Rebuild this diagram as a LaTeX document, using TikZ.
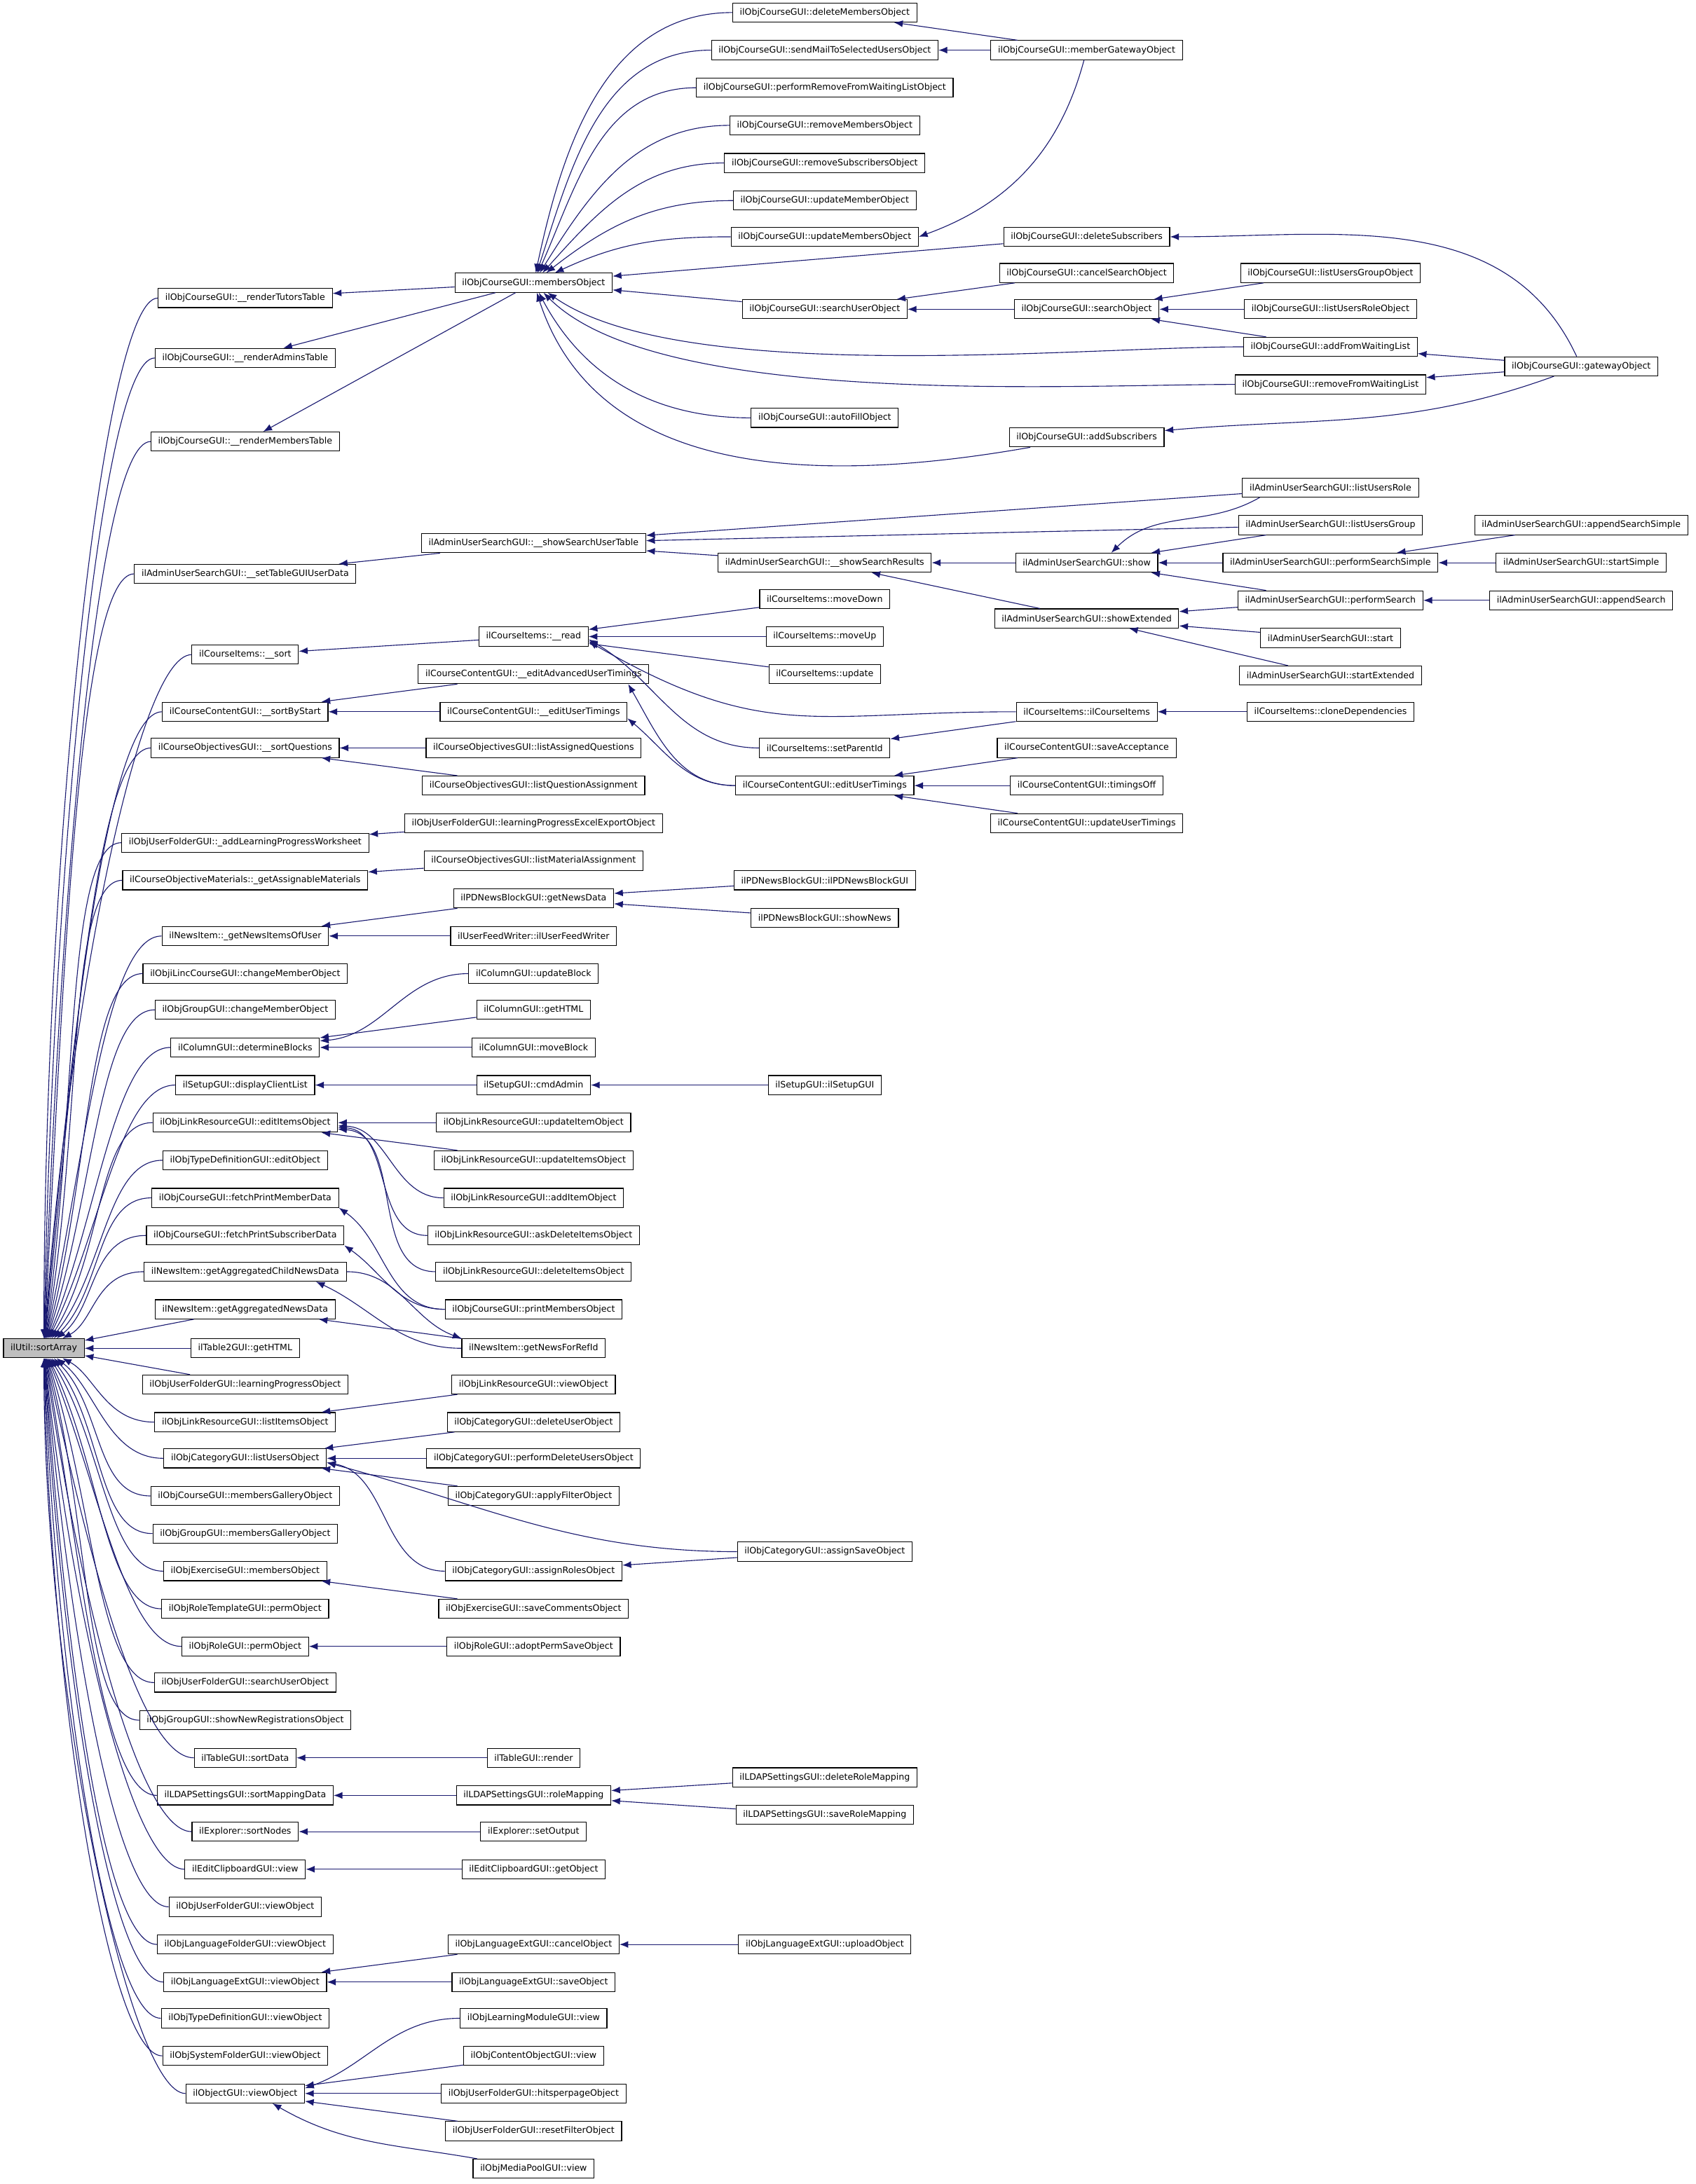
\documentclass[tikz,border=0pt]{standalone}
\usepackage{fontspec}
\setmainfont{DejaVu Sans}
\usetikzlibrary{arrows.meta}
\definecolor{edgeblue}{HTML}{191970}

\begin{document}
\begin{tikzpicture}[x=0.05cm, y=0.05cm]
    % Styles
    \tikzstyle{func} = [rectangle, draw=black, line width=0.8pt, fill=white, font=\fontsize{9}{10}\selectfont, inner xsep=7.3pt, inner ysep=0pt, minimum height=19.5pt]
    \tikzstyle{root} = [func, fill=black!25]
    \tikzstyle{arrow} = [line width=0.8pt, draw=edgeblue, -{Latex[length=9pt,width=7pt]}]

    \useasboundingbox (0,0) rectangle (1217,-1568);

    % Nodes
    \node (sa) [root] at (31.5,-968) {ilUtil::sortArray};

    % callers of sortArray
    \node (rtt) [func] at (176,-214) {ilObjCourseGUI::\_\_renderTutorsTable};
    \node (rat) [func] at (176,-257) {ilObjCourseGUI::\_\_renderAdminsTable};
    \node (rmt) [func] at (176,-317) {ilObjCourseGUI::\_\_renderMembersTable};
    \node (stg) [func] at (176,-412) {ilAdminUserSearchGUI::\_\_setTableGUIUserData};
    \node (cis) [func] at (176,-470) {ilCourseItems::\_\_sort};
    \node (sbs) [func] at (176,-511) {ilCourseContentGUI::\_\_sortByStart};
    \node (sq) [func] at (176,-537) {ilCourseObjectivesGUI::\_\_sortQuestions};
    \node (alp) [func] at (176,-605) {ilObjUserFolderGUI::\_addLearningProgressWorksheet};
    \node (gam) [func] at (176,-632) {ilCourseObjectiveMaterials::\_getAssignableMaterials};
    \node (gnu) [func] at (176,-672) {ilNewsItem::\_getNewsItemsOfUser};
    \node (lcm) [func] at (176,-699) {ilObjiLincCourseGUI::changeMemberObject};
    \node (gcm) [func] at (176,-725) {ilObjGroupGUI::changeMemberObject};
    \node (db) [func] at (176,-752) {ilColumnGUI::determineBlocks};
    \node (dcl) [func] at (176,-779) {ilSetupGUI::displayClientList};
    \node (eio) [func] at (176,-806) {ilObjLinkResourceGUI::editItemsObject};
    \node (tde) [func] at (176,-833) {ilObjTypeDefinitionGUI::editObject};
    \node (fpm) [func] at (176,-860) {ilObjCourseGUI::fetchPrintMemberData};
    \node (fps) [func] at (176,-887) {ilObjCourseGUI::fetchPrintSubscriberData};
    \node (gacn) [func] at (176,-913) {ilNewsItem::getAggregatedChildNewsData};
    \node (gan) [func] at (176,-940) {ilNewsItem::getAggregatedNewsData};
    \node (t2h) [func] at (176,-968) {ilTable2GUI::getHTML};
    \node (lpo) [func] at (176,-994) {ilObjUserFolderGUI::learningProgressObject};
    \node (lio) [func] at (176,-1021) {ilObjLinkResourceGUI::listItemsObject};
    \node (luo) [func] at (176,-1047) {ilObjCategoryGUI::listUsersObject};
    \node (cmg) [func] at (176,-1074) {ilObjCourseGUI::membersGalleryObject};
    \node (gmg) [func] at (176,-1101) {ilObjGroupGUI::membersGalleryObject};
    \node (emo) [func] at (176,-1128) {ilObjExerciseGUI::membersObject};
    \node (rtp) [func] at (176,-1155) {ilObjRoleTemplateGUI::permObject};
    \node (rp) [func] at (176,-1182) {ilObjRoleGUI::permObject};
    \node (usu) [func] at (176,-1208) {ilObjUserFolderGUI::searchUserObject};
    \node (gnr) [func] at (176,-1235) {ilObjGroupGUI::showNewRegistrationsObject};
    \node (tsd) [func] at (176,-1262) {ilTableGUI::sortData};
    \node (smd) [func] at (176,-1289) {ilLDAPSettingsGUI::sortMappingData};
    \node (esn) [func] at (176,-1315) {ilExplorer::sortNodes};
    \node (ecv) [func] at (176,-1342) {ilEditClipboardGUI::view};
    \node (ufv) [func] at (176,-1369) {ilObjUserFolderGUI::viewObject};
    \node (lfv) [func] at (176,-1396) {ilObjLanguageFolderGUI::viewObject};
    \node (lev) [func] at (176,-1423) {ilObjLanguageExtGUI::viewObject};
    \node (tdv) [func] at (176,-1449) {ilObjTypeDefinitionGUI::viewObject};
    \node (sfv) [func] at (176,-1476) {ilObjSystemFolderGUI::viewObject};
    \node (ogv) [func] at (176,-1503) {ilObjectGUI::viewObject};

    % second level
    \node (mo) [func] at (383,-203) {ilObjCourseGUI::membersObject};
    \node (ssut) [func] at (383,-390) {ilAdminUserSearchGUI::\_\_showSearchUserTable};
    \node (cir) [func] at (383,-457) {ilCourseItems::\_\_read};
    \node (eaut) [func] at (383,-484) {ilCourseContentGUI::\_\_editAdvancedUserTimings};
    \node (eut) [func] at (383,-511) {ilCourseContentGUI::\_\_editUserTimings};
    \node (laq) [func] at (383,-537) {ilCourseObjectivesGUI::listAssignedQuestions};
    \node (lqa) [func] at (383,-564) {ilCourseObjectivesGUI::listQuestionAssignment};
    \node (lpe) [func] at (383,-591) {ilObjUserFolderGUI::learningProgressExcelExportObject};
    \node (lma) [func] at (383,-618) {ilCourseObjectivesGUI::listMaterialAssignment};
    \node (gnd) [func] at (383,-645) {ilPDNewsBlockGUI::getNewsData};
    \node (ufw) [func] at (383,-672) {ilUserFeedWriter::ilUserFeedWriter};
    \node (cub) [func] at (383,-699) {ilColumnGUI::updateBlock};
    \node (cgh) [func] at (383,-725) {ilColumnGUI::getHTML};
    \node (cmb) [func] at (383,-752) {ilColumnGUI::moveBlock};
    \node (sca) [func] at (383,-779) {ilSetupGUI::cmdAdmin};
    \node (uio) [func] at (383,-806) {ilObjLinkResourceGUI::updateItemObject};
    \node (uiso) [func] at (383,-833) {ilObjLinkResourceGUI::updateItemsObject};
    \node (aio) [func] at (383,-860) {ilObjLinkResourceGUI::addItemObject};
    \node (adi) [func] at (383,-887) {ilObjLinkResourceGUI::askDeleteItemsObject};
    \node (dio) [func] at (383,-913) {ilObjLinkResourceGUI::deleteItemsObject};
    \node (pmo) [func] at (383,-940) {ilObjCourseGUI::printMembersObject};
    \node (gnfr) [func] at (383,-968) {ilNewsItem::getNewsForRefId};
    \node (lrv) [func] at (383,-994) {ilObjLinkResourceGUI::viewObject};
    \node (duo) [func] at (383,-1021) {ilObjCategoryGUI::deleteUserObject};
    \node (pdu) [func] at (383,-1047) {ilObjCategoryGUI::performDeleteUsersObject};
    \node (afo) [func] at (383,-1074) {ilObjCategoryGUI::applyFilterObject};
    \node (aro) [func] at (383,-1128) {ilObjCategoryGUI::assignRolesObject};
    \node (sco) [func] at (383,-1155) {ilObjExerciseGUI::saveCommentsObject};
    \node (aps) [func] at (383,-1182) {ilObjRoleGUI::adoptPermSaveObject};
    \node (tr) [func] at (383,-1262) {ilTableGUI::render};
    \node (lrm) [func] at (383,-1289) {ilLDAPSettingsGUI::roleMapping};
    \node (eso) [func] at (383,-1315) {ilExplorer::setOutput};
    \node (ego) [func] at (383,-1342) {ilEditClipboardGUI::getObject};
    \node (lco) [func] at (383,-1396) {ilObjLanguageExtGUI::cancelObject};
    \node (lso) [func] at (383,-1423) {ilObjLanguageExtGUI::saveObject};
    \node (lmv) [func] at (383,-1449) {ilObjLearningModuleGUI::view};
    \node (cov) [func] at (383,-1476) {ilObjContentObjectGUI::view};
    \node (hpp) [func] at (383,-1503) {ilObjUserFolderGUI::hitsperpageObject};
    \node (rfo) [func] at (383,-1530) {ilObjUserFolderGUI::resetFilterObject};
    \node (mpv) [func] at (383,-1557) {ilObjMediaPoolGUI::view};

    % third level
    \node (dmo) [func] at (592,-9) {ilObjCourseGUI::deleteMembersObject};
    \node (smo) [func] at (592,-36) {ilObjCourseGUI::sendMailToSelectedUsersObject};
    \node (prw) [func] at (592,-63) {ilObjCourseGUI::performRemoveFromWaitingListObject};
    \node (rmo) [func] at (592,-90) {ilObjCourseGUI::removeMembersObject};
    \node (rso) [func] at (592,-117) {ilObjCourseGUI::removeSubscribersObject};
    \node (umo) [func] at (592,-144) {ilObjCourseGUI::updateMemberObject};
    \node (umso) [func] at (592,-170) {ilObjCourseGUI::updateMembersObject};
    \node (suo) [func] at (592,-222) {ilObjCourseGUI::searchUserObject};
    \node (afl) [func] at (592,-300) {ilObjCourseGUI::autoFillObject};
    \node (ssr) [func] at (592,-404) {ilAdminUserSearchGUI::\_\_showSearchResults};
    \node (cmd) [func] at (592,-430) {ilCourseItems::moveDown};
    \node (cmu) [func] at (592,-457) {ilCourseItems::moveUp};
    \node (ciu) [func] at (592,-484) {ilCourseItems::update};
    \node (csp) [func] at (592,-537) {ilCourseItems::setParentId};
    \node (ceut) [func] at (592,-564) {ilCourseContentGUI::editUserTimings};
    \node (pdb) [func] at (592,-632) {ilPDNewsBlockGUI::ilPDNewsBlockGUI};
    \node (psn) [func] at (592,-659) {ilPDNewsBlockGUI::showNews};
    \node (sgu) [func] at (592,-779) {ilSetupGUI::ilSetupGUI};
    \node (aso) [func] at (592,-1114) {ilObjCategoryGUI::assignSaveObject};
    \node (drm) [func] at (592,-1276) {ilLDAPSettingsGUI::deleteRoleMapping};
    \node (srm) [func] at (592,-1303) {ilLDAPSettingsGUI::saveRoleMapping};
    \node (upl) [func] at (592,-1396) {ilObjLanguageExtGUI::uploadObject};

    % fourth level
    \node (mgo) [func] at (780,-36) {ilObjCourseGUI::memberGatewayObject};
    \node (dsu) [func] at (780,-170) {ilObjCourseGUI::deleteSubscribers};
    \node (cso) [func] at (780,-196) {ilObjCourseGUI::cancelSearchObject};
    \node (so) [func] at (780,-222) {ilObjCourseGUI::searchObject};
    \node (asu) [func] at (780,-314) {ilObjCourseGUI::addSubscribers};
    \node (aus) [func] at (780,-404) {ilAdminUserSearchGUI::show};
    \node (ase) [func] at (780,-444) {ilAdminUserSearchGUI::showExtended};
    \node (cic) [func] at (780,-511) {ilCourseItems::ilCourseItems};
    \node (csa) [func] at (780,-537) {ilCourseContentGUI::saveAcceptance};
    \node (cto) [func] at (780,-564) {ilCourseContentGUI::timingsOff};
    \node (cuut) [func] at (780,-591) {ilCourseContentGUI::updateUserTimings};

    % fifth level
    \node (lugo) [func] at (955,-196) {ilObjCourseGUI::listUsersGroupObject};
    \node (luro) [func] at (955,-222) {ilObjCourseGUI::listUsersRoleObject};
    \node (afw) [func] at (955,-249) {ilObjCourseGUI::addFromWaitingList};
    \node (rfw) [func] at (955,-276) {ilObjCourseGUI::removeFromWaitingList};
    \node (alr) [func] at (955,-350) {ilAdminUserSearchGUI::listUsersRole};
    \node (alg) [func] at (955,-377) {ilAdminUserSearchGUI::listUsersGroup};
    \node (pss) [func] at (955,-404) {ilAdminUserSearchGUI::performSearchSimple};
    \node (ps) [func] at (955,-431) {ilAdminUserSearchGUI::performSearch};
    \node (ast) [func] at (955,-458) {ilAdminUserSearchGUI::start};
    \node (astx) [func] at (955,-485) {ilAdminUserSearchGUI::startExtended};
    \node (ccd) [func] at (955,-511) {ilCourseItems::cloneDependencies};

    % sixth level
    \node (gwo) [func] at (1135,-263) {ilObjCourseGUI::gatewayObject};
    \node (ass) [func] at (1135,-377) {ilAdminUserSearchGUI::appendSearchSimple};
    \node (asi) [func] at (1135,-404) {ilAdminUserSearchGUI::startSimple};
    \node (asr) [func] at (1135,-431) {ilAdminUserSearchGUI::appendSearch};

    % Arrows into sortArray
    \draw [arrow] (rtt.west) .. controls +(-40,0) and +(90:340) .. (sa.90);
    \draw [arrow] (rat.west) .. controls +(-40,0) and +(89:320) .. (sa.89);
    \draw [arrow] (rmt.west) .. controls +(-40,0) and +(88:292) .. (sa.88);
    \draw [arrow] (stg.west) .. controls +(-40,0) and +(87:250) .. (sa.87);
    \draw [arrow] (cis.west) .. controls +(-40,0) and +(86:224) .. (sa.86);
    \draw [arrow] (sbs.west) .. controls +(-40,0) and +(85:206) .. (sa.85);
    \draw [arrow] (sq.west) .. controls +(-40,0) and +(84:194) .. (sa.84);
    \draw [arrow] (alp.west) .. controls +(-40,0) and +(82:164) .. (sa.82);
    \draw [arrow] (gam.west) .. controls +(-40,0) and +(80:152) .. (sa.80);
    \draw [arrow] (gnu.west) .. controls +(-40,0) and +(78:134) .. (sa.78);
    \draw [arrow] (lcm.west) .. controls +(-40,0) and +(75:120) .. (sa.75);
    \draw [arrow] (gcm.west) .. controls +(-40,0) and +(72:110) .. (sa.72);
    \draw [arrow] (db.west) .. controls +(-40,0) and +(68:98) .. (sa.68);
    \draw [arrow] (dcl.west) .. controls +(-40,0) and +(64:86) .. (sa.64);
    \draw [arrow] (eio.west) .. controls +(-40,0) and +(58:74) .. (sa.58);
    \draw [arrow] (tde.west) .. controls +(-40,0) and +(52:62) .. (sa.52);
    \draw [arrow] (fpm.west) .. controls +(-40,0) and +(45:50) .. (sa.45);
    \draw [arrow] (fps.west) .. controls +(-40,0) and +(38:36) .. (sa.38);
    \draw [arrow] (gacn.west) .. controls +(-35,0) and +(28:26) .. (sa.28);
    \draw [arrow] (gan) -- (sa);
    \draw [arrow] (t2h) -- (sa);
    \draw [arrow] (lpo) -- (sa);
    \draw [arrow] (lio.west) .. controls +(-35,0) and +(-28:26) .. (sa.-28);
    \draw [arrow] (luo.west) .. controls +(-40,0) and +(-38:36) .. (sa.-38);
    \draw [arrow] (cmg.west) .. controls +(-40,0) and +(-45:50) .. (sa.-45);
    \draw [arrow] (gmg.west) .. controls +(-40,0) and +(-52:60) .. (sa.-52);
    \draw [arrow] (emo.west) .. controls +(-40,0) and +(-58:72) .. (sa.-58);
    \draw [arrow] (rtp.west) .. controls +(-40,0) and +(-64:84) .. (sa.-64);
    \draw [arrow] (rp.west) .. controls +(-40,0) and +(-68:96) .. (sa.-68);
    \draw [arrow] (usu.west) .. controls +(-40,0) and +(-72:108) .. (sa.-72);
    \draw [arrow] (gnr.west) .. controls +(-40,0) and +(-75:120) .. (sa.-75);
    \draw [arrow] (tsd.west) .. controls +(-40,0) and +(-78:132) .. (sa.-78);
    \draw [arrow] (smd.west) .. controls +(-40,0) and +(-80:144) .. (sa.-80);
    \draw [arrow] (esn.west) .. controls +(-40,0) and +(-82:156) .. (sa.-82);
    \draw [arrow] (ecv.west) .. controls +(-40,0) and +(-84:168) .. (sa.-84);
    \draw [arrow] (ufv.west) .. controls +(-40,0) and +(-85:180) .. (sa.-85);
    \draw [arrow] (lfv.west) .. controls +(-40,0) and +(-86:192) .. (sa.-86);
    \draw [arrow] (lev.west) .. controls +(-40,0) and +(-87:204) .. (sa.-87);
    \draw [arrow] (tdv.west) .. controls +(-40,0) and +(-88:216) .. (sa.-88);
    \draw [arrow] (sfv.west) .. controls +(-40,0) and +(-89:228) .. (sa.-89);
    \draw [arrow] (ogv.west) .. controls +(-40,0) and +(-90:240) .. (sa.-90);

    % Arrows into the first level
    \draw [arrow] (mo) -- (rtt);
    \draw [arrow] (mo) -- (rat);
    \draw [arrow] (mo) -- (rmt);
    \draw [arrow] (ssut) -- (stg);
    \draw [arrow] (cir) -- (cis);
    \draw [arrow] (eaut) -- (sbs);
    \draw [arrow] (eut) -- (sbs);
    \draw [arrow] (laq) -- (sq);
    \draw [arrow] (lqa) -- (sq);
    \draw [arrow] (lpe) -- (alp);
    \draw [arrow] (lma) -- (gam);
    \draw [arrow] (gnd) -- (gnu);
    \draw [arrow] (ufw) -- (gnu);
    \draw [arrow] (cub) to[out=180, in=5] (db);
    \draw [arrow] (cgh) -- (db);
    \draw [arrow] (cmb) -- (db);
    \draw [arrow] (sca) -- (dcl);
    \draw [arrow] (uio) -- (eio);
    \draw [arrow] (uiso) -- (eio);
    \draw [arrow] (aio) to[out=180, in=-2] (eio);
    \draw [arrow] (adi) to[out=180, in=-3] (eio);
    \draw [arrow] (dio) to[out=180, in=-4] (eio);
    \draw [arrow] (pmo) to[out=180, in=-35] (fpm.south east);
    \draw [arrow] (pmo) to[out=180, in=-35] (fps.south east);
    \draw [arrow] (gnfr) to[out=180, in=-25] (gacn.-8);
    \draw [arrow] (gnfr) -- (gan);
    \draw [arrow] (lrv) -- (lio);
    \draw [arrow] (duo) -- (luo);
    \draw [arrow] (pdu) -- (luo);
    \draw [arrow] (afo) -- (luo);
    \draw [arrow] (aro) to[out=180, in=-10] (luo.-3);
    \draw [arrow] (aso) to[out=180, in=-15] (luo.-3);
    \draw [arrow] (sco) -- (emo);
    \draw [arrow] (aps) -- (rp);
    \draw [arrow] (tr) -- (tsd);
    \draw [arrow] (lrm) -- (smd);
    \draw [arrow] (eso) -- (esn);
    \draw [arrow] (ego) -- (ecv);
    \draw [arrow] (lco) -- (lev);
    \draw [arrow] (lso) -- (lev);
    \draw [arrow] (lmv) to[out=180, in=20] (ogv.5);
    \draw [arrow] (cov) -- (ogv);
    \draw [arrow] (hpp) -- (ogv);
    \draw [arrow] (rfo) -- (ogv);
    \draw [arrow] (mpv) to[out=170, in=-30] (ogv.-20);

    % Arrows into the second level
    \draw [arrow] (dmo) to[out=180, in=78] (mo);
    \draw [arrow] (smo) to[out=180, in=72] (mo);
    \draw [arrow] (prw) to[out=180, in=66] (mo);
    \draw [arrow] (rmo) to[out=180, in=58] (mo);
    \draw [arrow] (rso) to[out=180, in=48] (mo);
    \draw [arrow] (umo) to[out=180, in=38] (mo);
    \draw [arrow] (umso) to[out=180, in=25] (mo);
    \draw [arrow] (dsu) -- (mo);
    \draw [arrow] (suo) -- (mo);
    \draw [arrow] (afw) to[out=180, in=-35, looseness=0.6] (mo);
    \draw [arrow] (rfw) to[out=180, in=-45, looseness=0.6] (mo);
    \draw [arrow] (afl) to[out=180, in=-62] (mo);
    \draw [arrow] (asu) to[out=190, in=-72] (mo);
    \draw [arrow] (alr) -- (ssut);
    \draw [arrow] (alg) -- (ssut);
    \draw [arrow] (ssr) -- (ssut);
    \draw [arrow] (cmd) -- (cir);
    \draw [arrow] (cmu) -- (cir);
    \draw [arrow] (ciu) -- (cir);
    \draw [arrow] (cic) to[out=180, in=-30, looseness=1.2] (cir.-5);
    \draw [arrow] (csp) to[out=180, in=-30] (cir.-3);
    \draw [arrow] (ceut) to[out=180, in=-60] (eaut.-6);
    \draw [arrow] (ceut) to[out=180, in=-40] (eut.-4);
    \draw [arrow] (pdb) -- (gnd);
    \draw [arrow] (psn) -- (gnd);
    \draw [arrow] (sgu) -- (sca);
    \draw [arrow] (gacn) to[out=0, in=160] (gnfr.north west);
    \draw [arrow] (aso) -- (aro);
    \draw [arrow] (drm) -- (lrm);
    \draw [arrow] (srm) -- (lrm);
    \draw [arrow] (upl) -- (lco);

    % Arrows into the third level
    \draw [arrow] (mgo) -- (dmo);
    \draw [arrow] (mgo) -- (smo);
    \draw [arrow] (mgo) to[out=-105, in=20] (umso.east);
    \draw [arrow] (cso) -- (suo);
    \draw [arrow] (so) -- (suo);
    \draw [arrow] (aus) -- (ssr);
    \draw [arrow] (ase) -- (ssr);
    \draw [arrow] (cic) -- (csp);
    \draw [arrow] (csa) -- (ceut);
    \draw [arrow] (cto) -- (ceut);
    \draw [arrow] (cuut) -- (ceut);

    % Arrows into the fourth and fifth level
    \draw [arrow] (gwo) to[out=115, in=0] (dsu);
    \draw [arrow] (gwo) to[out=-160, in=5] (asu);
    \draw [arrow] (lugo) -- (so);
    \draw [arrow] (luro) -- (so);
    \draw [arrow] (afw) -- (so);
    \draw [arrow] (alr.-172) to[out=-150, in=45] (aus.22);
    \draw [arrow] (alg) -- (aus);
    \draw [arrow] (pss) -- (aus);
    \draw [arrow] (ps) -- (aus);
    \draw [arrow] (ps) -- (ase);
    \draw [arrow] (ast) -- (ase);
    \draw [arrow] (astx) -- (ase);
    \draw [arrow] (ccd) -- (cic);
    \draw [arrow] (gwo) -- (afw);
    \draw [arrow] (gwo) -- (rfw);
    \draw [arrow] (ass) -- (pss);
    \draw [arrow] (asi) -- (pss);
    \draw [arrow] (asr) -- (ps);
\end{tikzpicture}
\end{document}
